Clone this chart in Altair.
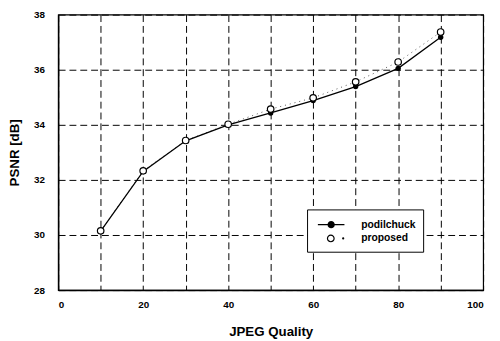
import altair as alt
import pandas as pd

quality = [10, 20, 30, 40, 50, 60, 70, 80, 90]
podilchuck = [30.14, 32.31, 33.42, 34.0, 34.43, 34.88, 35.39, 36.05, 37.18]
proposed = [30.15, 32.33, 33.43, 34.02, 34.57, 34.98, 35.56, 36.28, 37.37]
series_names = ["podilchuck", "proposed"]
x_ticks = [0, 10, 20, 30, 40, 50, 60, 70, 80, 90, 100]
y_ticks = [28, 30, 32, 34, 36, 38]

rows = []
for q, a, b in zip(quality, podilchuck, proposed):
    rows.append({"quality": q, "series": "podilchuck", "psnr": a})
    rows.append({"quality": q, "series": "proposed", "psnr": b})
df = pd.DataFrame(rows)

FONT = "Liberation Sans"

x_enc = alt.X(
    "quality:Q",
    scale=alt.Scale(domain=[0, 100], nice=False),
    axis=alt.Axis(
        title="JPEG Quality",
        values=x_ticks,
        labelExpr="datum.value % 20 == 0 ? datum.label : ''",
        labelPadding=10,
        titlePadding=15,
    ),
)
y_enc = alt.Y(
    "psnr:Q",
    scale=alt.Scale(domain=[28, 38], nice=False, zero=False),
    axis=alt.Axis(
        title="PSNR [dB]",
        values=y_ticks,
        labelPadding=14,
        titlePadding=12,
    ),
)

base = alt.Chart(df)

line_pod = base.transform_filter("datum.series == 'podilchuck'").mark_line(
    color="black", strokeWidth=1.3
).encode(x=x_enc, y=y_enc)

line_prop = base.transform_filter("datum.series == 'proposed'").mark_line(
    color="#555555", strokeWidth=1, strokeDash=[1, 4]
).encode(x=x_enc, y=y_enc)

pts_pod = base.transform_filter("datum.series == 'podilchuck'").mark_point(
    shape="circle", filled=True, color="black", size=30, opacity=1
).encode(x=x_enc, y=y_enc)

pts_prop = base.transform_filter("datum.series == 'proposed'").mark_point(
    shape="circle", filled=False, stroke="black", fill="white", strokeWidth=1.2,
    size=44, opacity=1
).encode(x=x_enc, y=y_enc)


def ring(cx, r):
    return (f"M{cx - r},0A{r},{r},0,1,0,{cx + r},0"
            f"A{r},{r},0,1,0,{cx - r},0Z")


pod_path = "M-1.8,0H1.8" + "".join(ring(0, r) for r in [0.09, 0.2, 0.31, 0.41])
prop_path = ring(-0.05, 0.45) + ring(1.63, 0.07)

legend_layer = base.transform_filter("datum.quality < 0").mark_point(
    filled=False, color="black", strokeWidth=1.2, size=225, opacity=1
).encode(
    x=x_enc,
    y=y_enc,
    shape=alt.Shape(
        "series:N",
        scale=alt.Scale(domain=series_names, range=[pod_path, prop_path]),
        legend=alt.Legend(title=None, symbolStrokeColor="black",
                          symbolStrokeWidth=1.2),
    ),
)

chart = alt.layer(line_prop, line_pod, pts_pod, pts_prop, legend_layer).properties(
    width=432,
    height=280,
    autosize=alt.AutoSizeParams(type="none"),
    padding={"left": 51, "top": 4, "right": 9, "bottom": 49},
    background="white",
).configure_view(
    stroke="black", strokeWidth=1.2
).configure_axis(
    grid=True,
    gridColor="black",
    gridDash=[7, 4],
    gridWidth=1,
    gridOpacity=1,
    tickSize=0,
    domainColor="black",
    domainWidth=1.5,
    labelFont=FONT,
    labelFontSize=10,
    labelFontWeight="bold",
    labelColor="black",
    titleFont=FONT,
    titleFontSize=13.5,
    titleFontWeight="bold",
    titleColor="black",
).configure_legend(
    orient="none",
    legendX=253,
    legendY=198,
    padding=7,
    strokeColor="black",
    fillColor="white",
    symbolSize=225,
    symbolStrokeColor="black",
    symbolStrokeWidth=1.2,
    symbolOffset=9,
    labelOffset=22,
    rowPadding=0,
    labelFont=FONT,
    labelFontSize=10.5,
    labelFontWeight="bold",
    labelColor="black",
)

chart.save("out.html", embed_options={"renderer": "svg", "actions": False})
